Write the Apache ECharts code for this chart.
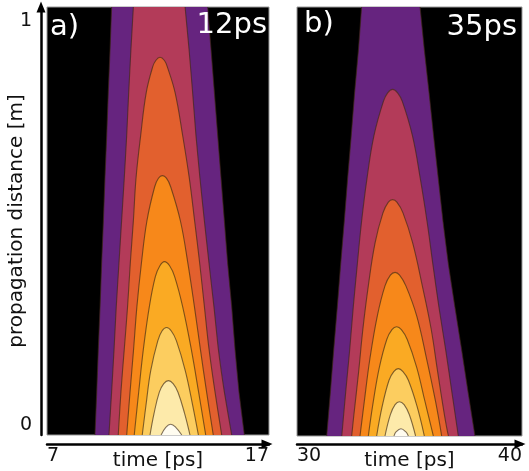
<!DOCTYPE html>
<html><head><meta charset="utf-8">
<script src="https://cdn.jsdelivr.net/npm/echarts@6/dist/echarts.min.js"></script>
<style>html,body{margin:0;padding:0;background:#fff}#c{width:529px;height:471px}</style>
</head><body><div id="c"></div>
<script>
// Contour rows: [propagation distance (m), left time (ps), right time (ps)]
// Panel a) pulse centred near 12 ps
const a1 = [[1.0,9.91,14.24],[0.9,9.84,14.39],[0.8,9.76,14.54],[0.7,9.69,14.69],[0.6,9.61,14.84],[0.5,9.54,14.99],[0.4,9.46,15.14],[0.3,9.39,15.32],[0.2,9.31,15.47],[0.1,9.24,15.65],[0.0,9.16,15.89]];
const a2 = [[1.0,10.89,13.22],[0.9,10.78,13.40],[0.8,10.68,13.56],[0.7,10.59,13.71],[0.6,10.48,13.89],[0.5,10.36,14.09],[0.4,10.24,14.30],[0.3,10.12,14.52],[0.2,10.02,14.72],[0.1,9.91,14.99],[0.0,9.79,15.32]];
const a3 = [[0.8825,12.09,12.09],[0.875,11.90,12.29],[0.86,11.76,12.42],[0.8,11.47,12.77],[0.7,11.22,13.11],[0.6,11.01,13.41],[0.5,10.89,13.65],[0.4,10.75,13.88],[0.3,10.63,14.09],[0.2,10.48,14.30],[0.1,10.33,14.57],[0.0,10.21,14.87]];
const a4 = [[0.606,12.20,12.20],[0.6,12.02,12.38],[0.58,11.85,12.57],[0.5,11.50,13.01],[0.4,11.25,13.35],[0.3,11.05,13.64],[0.2,10.90,13.91],[0.1,10.74,14.19],[0.0,10.59,14.49]];
const a5 = [[0.405,12.29,12.29],[0.395,12.08,12.53],[0.37,11.88,12.75],[0.3,11.61,13.11],[0.2,11.34,13.50],[0.1,11.13,13.83],[0.0,10.93,14.15]];
const a6 = [[0.251,12.39,12.39],[0.243,12.18,12.60],[0.22,11.99,12.83],[0.15,11.67,13.23],[0.07,11.46,13.56],[0.0,11.29,13.82]];
const a7 = [[0.127,12.47,12.47],[0.12,12.26,12.68],[0.1,12.06,12.90],[0.05,11.82,13.20],[0.0,11.64,13.44]];
const a8 = [[0.025,12.57,12.57],[0.018,12.35,12.80],[0.0,12.14,13.07]];
// Panel b) pulse centred near 35 ps
const b1 = [[1.0,32.87,35.47],[0.9,32.73,35.66],[0.8,32.56,35.87],[0.7,32.41,36.07],[0.6,32.25,36.28],[0.5,32.10,36.49],[0.4,31.94,36.73],[0.3,31.79,37.02],[0.2,31.63,37.32],[0.1,31.48,37.61],[0.0,31.32,37.91]];
const b2 = [[0.808,34.25,34.25],[0.80,34.03,34.47],[0.78,33.84,34.68],[0.7,33.42,35.13],[0.6,33.11,35.48],[0.5,32.87,35.78],[0.4,32.68,36.04],[0.3,32.50,36.31],[0.2,32.34,36.61],[0.1,32.16,36.89],[0.0,31.99,37.17]];
const b3 = [[0.551,34.25,34.25],[0.545,34.06,34.44],[0.52,33.82,34.71],[0.45,33.47,35.14],[0.35,33.17,35.57],[0.25,32.93,35.96],[0.15,32.74,36.25],[0.05,32.53,36.55],[0.0,32.43,36.73]];
const b4 = [[0.3815,34.36,34.36],[0.375,34.15,34.56],[0.35,33.91,34.84],[0.28,33.57,35.32],[0.18,33.24,35.76],[0.08,32.99,36.16],[0.0,32.80,36.43]];
const b5 = [[0.2547,34.43,34.43],[0.248,34.22,34.64],[0.225,33.99,34.90],[0.16,33.66,35.32],[0.08,33.39,35.69],[0.0,33.17,36.06]];
const b6 = [[0.157,34.50,34.50],[0.15,34.30,34.71],[0.13,34.09,34.95],[0.07,33.79,35.33],[0.0,33.54,35.66]];
const b7 = [[0.080,34.55,34.55],[0.073,34.36,34.76],[0.05,34.15,34.99],[0.0,33.91,35.27]];
const b8 = [[0.017,34.62,34.62],[0.01,34.41,34.83],[0.0,34.31,34.95]];

const xRangeA = [7, 17];
const xRangeB = [30, 40];
const yRange = [0, 1];
const panelLabels = ['a)', 'b)'];
const panelTimes = ['12ps', '35ps'];
const xName = 'time [ps]';
const yName = 'propagation distance [m]';

// styles
const bandColors = ['#66247f','#b33b59','#e2602e','#f7881a','#faaa23','#fccd5f','#fdeaaa','#fffcf0'];
const lineColor = 'rgba(60,40,20,0.65)';
const FONT = '"DejaVu Sans", sans-serif';

const levelsA = [a1,a2,a3,a4,a5,a6,a7,a8];
const levelsB = [b1,b2,b3,b4,b5,b6,b7,b8];

function makeRender(levels) {
  return function (params, api) {
    const rows = levels[params.dataIndex];
    const color = bandColors[params.dataIndex];
    const open = rows[0][1] !== rows[0][2];
    const left = rows.slice().reverse().map(r => api.coord([r[1], r[0]]));
    const right = rows.map(r => api.coord([r[2], r[0]]));
    if (open) {
      return {type: 'group', children: [
        {type: 'polygon', shape: {points: left.concat(right)}, style: {fill: color}},
        {type: 'polyline', shape: {points: left, smooth: 0.2}, style: {fill: null, stroke: lineColor, lineWidth: 1.1}},
        {type: 'polyline', shape: {points: right, smooth: 0.2}, style: {fill: null, stroke: lineColor, lineWidth: 1.1}}
      ]};
    }
    const pts = left.concat(right.slice(1));
    return {type: 'polyline', shape: {points: pts, smooth: 0.4}, style: {fill: color, stroke: lineColor, lineWidth: 1.1}};
  };
}

function xAxisCfg(idx, range, offset) {
  return {
    gridIndex: idx, type: 'value', min: range[0], max: range[1], interval: range[1] - range[0],
    offset: offset,
    axisLine: {show: true, onZero: false, symbol: ['none', 'triangle'], symbolSize: [9, 11], symbolOffset: [0, -2],
      lineStyle: {color: '#000', width: 2.5}},
    axisTick: {show: false}, splitLine: {show: false},
    axisLabel: {fontSize: 19, fontFamily: FONT, color: '#111', margin: 3, alignMinLabel: 'left', alignMaxLabel: 'right'},
    name: xName, nameLocation: 'middle', nameGap: 7, nameMoveOverlap: false,
    nameTextStyle: {fontSize: 20, fontFamily: FONT, color: '#111', verticalAlign: 'top'}
  };
}

const option = {
  animation: false,
  backgroundColor: '#fff',
  grid: [
    {left: 47, top: 7, width: 222, height: 428, outerBoundsMode: 'none', containLabel: false,
      show: true, backgroundColor: '#000', borderColor: '#999', borderWidth: 1},
    {left: 297, top: 7, width: 225, height: 429, outerBoundsMode: 'none', containLabel: false,
      show: true, backgroundColor: '#000', borderColor: '#999', borderWidth: 1}
  ],
  xAxis: [xAxisCfg(0, xRangeA, 9), xAxisCfg(1, xRangeB, 8)],
  yAxis: [
    {gridIndex: 0, type: 'value', min: yRange[0], max: yRange[1], interval: yRange[1] - yRange[0], offset: 6,
      axisLine: {show: true, onZero: false, symbol: ['none', 'triangle'], symbolSize: [9, 11],
        lineStyle: {color: '#000', width: 2.5}},
      axisTick: {show: false}, splitLine: {show: false},
      axisLabel: {fontSize: 19, fontFamily: FONT, color: '#111', margin: 9,
        verticalAlignMinLabel: 'bottom', verticalAlignMaxLabel: 'top', padding: [5, 0, 0, 0]},
      name: yName, nameLocation: 'middle', nameGap: 14, nameRotate: 90, nameMoveOverlap: false,
      nameTextStyle: {fontSize: 20, fontFamily: FONT, color: '#111'}
    },
    {gridIndex: 1, type: 'value', min: yRange[0], max: yRange[1], show: false}
  ],
  series: [
    {type: 'custom', xAxisIndex: 0, yAxisIndex: 0, renderItem: makeRender(levelsA), clip: true,
      data: levelsA.map(r => [r[r.length - 1][1], r[r.length - 1][0]]), encode: {x: 0, y: 1}, silent: true},
    {type: 'custom', xAxisIndex: 1, yAxisIndex: 1, renderItem: makeRender(levelsB), clip: true,
      data: levelsB.map(r => [r[r.length - 1][1], r[r.length - 1][0]]), encode: {x: 0, y: 1}, silent: true}
  ],
  graphic: [
    {type: 'text', left: 50, top: 13, z: 100, style: {text: panelLabels[0], fill: '#fff', fontSize: 29, fontFamily: FONT}},
    {type: 'text', right: 262, top: 11, z: 100, style: {text: panelTimes[0], fill: '#fff', fontSize: 29, fontFamily: FONT}},
    {type: 'text', left: 304, top: 10, z: 100, style: {text: panelLabels[1], fill: '#fff', fontSize: 29, fontFamily: FONT}},
    {type: 'text', right: 12, top: 13, z: 100, style: {text: panelTimes[1], fill: '#fff', fontSize: 29, fontFamily: FONT}}
  ]
};

const chart = echarts.init(document.getElementById('c'), null, {renderer: 'canvas'});
chart.setOption(option);
</script>
</body></html>
